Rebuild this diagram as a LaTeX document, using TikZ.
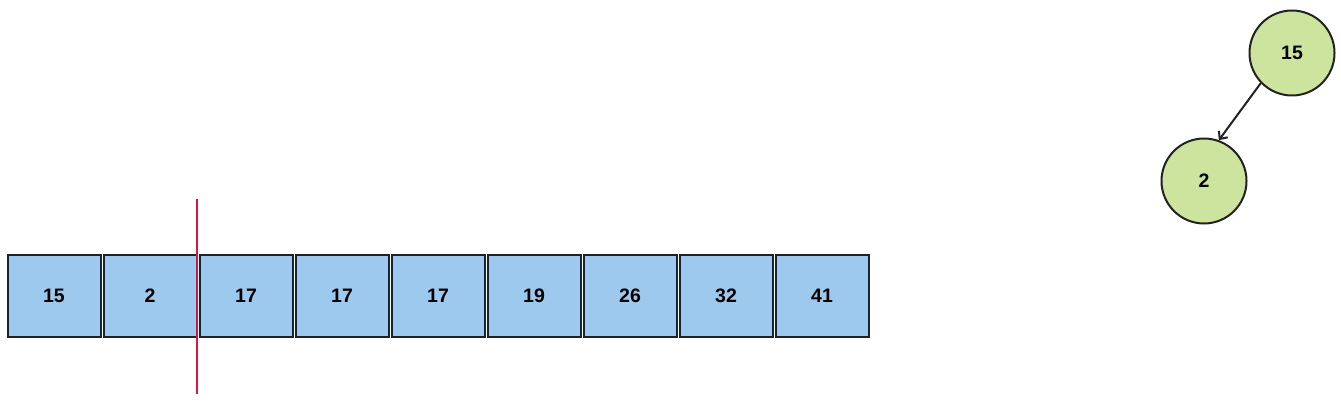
\documentclass[tikz,border=0pt]{standalone}
\usepackage{fontspec}
\setmainfont{Liberation Sans}
\usetikzlibrary{arrows.meta}
\definecolor{cellblue}{HTML}{9DC9EE}
\definecolor{treegreen}{HTML}{CDE49F}
\definecolor{cutred}{HTML}{E0143C}
\definecolor{edge}{HTML}{222222}
\tikzset{
  cell/.style={draw=edge, fill=cellblue, line width=2pt, minimum width=93pt, minimum height=81pt, inner sep=0pt, font=\fontsize{19.5}{22}\selectfont\bfseries},
  leaf/.style={circle, draw=edge, fill=treegreen, line width=2pt, minimum size=85pt, inner sep=0pt, font=\fontsize{19.5}{22}\selectfont\bfseries}
}

\begin{document}
\begin{tikzpicture}[x=1pt, y=-1pt]
          \useasboundingbox (0,0) rectangle (1341,403);
          \node [cell] (b1) at (54,296) {15};
          \node [cell] (b2) at (150,296) {2};
          \node [cell] (b3) at (246,296) {17};
          \node [cell] (b4) at (342,296) {17};
          \node [cell] (b5) at (438,296) {17};
          \node [cell] (b6) at (534,296) {19};
          \node [cell] (b7) at (630,296) {26};
          \node [cell] (b8) at (726,296) {32};
          \node [cell] (b9) at (822,296) {41};
          \coordinate (cuttop) at (197,199);
          \coordinate (cutbot) at (197,394);
          \draw [cutred, line width=2pt] (cuttop) -- (cutbot);
          \node [leaf] (t15) at (1292,53) {15};
          \node [leaf] (t2) at (1204,181) {2};
          \draw [edge, line width=2pt, -{Straight Barb[length=6pt, width=11pt]}] (t15.224) -- (t2.70);
        \end{tikzpicture}
\end{document}
